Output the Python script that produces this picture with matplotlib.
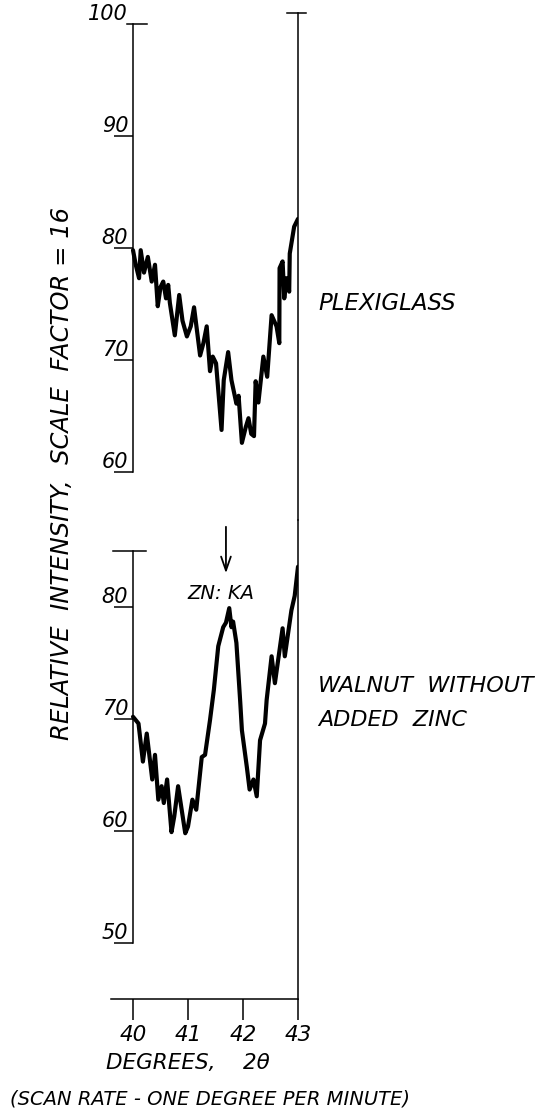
import matplotlib
matplotlib.use("Agg")
import matplotlib.pyplot as plt

# Scan angle (degrees 2-theta) and relative intensity for each sample
plexi_deg = [40.00, 40.05, 40.11, 40.14, 40.20, 40.27, 40.34, 40.40, 40.45, 40.50,
             40.55, 40.60, 40.64, 40.67, 40.76, 40.84, 40.90, 40.98, 41.05, 41.11,
             41.22, 41.28, 41.34, 41.40, 41.45, 41.51, 41.61, 41.65, 41.73, 41.79,
             41.88, 41.92, 41.98, 42.05, 42.10, 42.15, 42.20, 42.23, 42.28, 42.37,
             42.44, 42.52, 42.61, 42.66, 42.665, 42.72, 42.75, 42.79, 42.84, 42.85,
             42.93, 43.00]
plexi_int = [79.8, 78.5, 77.3, 79.8, 77.8, 79.2, 77.0, 78.5, 74.8, 76.5,
             77.0, 75.5, 76.7, 75.1, 72.2, 75.8, 73.5, 72.1, 73.0, 74.7,
             70.4, 71.5, 73.0, 69.0, 70.3, 69.7, 63.75, 68.2, 70.7, 68.2,
             66.1, 66.8, 62.6, 64.0, 64.8, 63.4, 63.2, 68.1, 66.2, 70.3,
             68.5, 74.0, 73.0, 71.5, 78.2, 78.8, 75.5, 77.3, 76.1, 79.5,
             81.9, 82.6]

walnut_deg = [40.00, 40.10, 40.18, 40.25, 40.35, 40.40, 40.46, 40.52, 40.56, 40.62,
              40.70, 40.75, 40.82, 40.95, 41.00, 41.08, 41.15, 41.25, 41.31, 41.40,
              41.47, 41.55, 41.64, 41.69, 41.75, 41.79, 41.82, 41.88, 41.95, 41.98,
              42.07, 42.12, 42.19, 42.25, 42.31, 42.40, 42.43, 42.52, 42.58, 42.72,
              42.76, 42.88, 42.94, 43.00]
walnut_int = [70.2, 69.6, 66.2, 68.7, 64.6, 66.8, 62.8, 64.0, 62.5, 64.6,
              59.9, 61.3, 64.0, 59.8, 60.4, 62.8, 61.9, 66.6, 66.8, 69.9,
              72.6, 76.5, 78.2, 78.6, 79.9, 78.2, 78.7, 76.8, 71.5, 69.0,
              65.7, 63.7, 64.6, 63.1, 68.1, 69.6, 71.7, 75.6, 73.2, 78.1,
              75.6, 79.7, 81.0, 83.6]

x_ticks = [40, 41, 42, 43]
upper_ticks = [60, 70, 80, 90]
lower_ticks = [50, 60, 70, 80]
zn_ka_deg = 41.69

FONT = dict(family="DejaVu Sans", style="italic")
W, H = 551, 1112
fig = plt.figure(figsize=(W / 100, H / 100), dpi=100)
fig.patch.set_facecolor("white")

xlim = (39.6, 43.0)
left = 111 / W
width = 187 / W
ax_top = fig.add_axes([left, 1 - 520 / H, width, 507 / H])
ax_bot = fig.add_axes([left, 1 - 999 / H, width, 479 / H])
ax_top.set_ylim(55.71, 100.98)
ax_bot.set_ylim(45.0, 87.77)

lw_axis = 1.1
for ax in (ax_top, ax_bot):
    ax.set_xlim(*xlim)
    ax.patch.set_alpha(0)
    ax.spines["top"].set_visible(False)
    ax.spines["left"].set_position(("data", 40))
    for s in ax.spines.values():
        s.set_linewidth(lw_axis)
        s.set_color("black")
    ax.tick_params(axis="y", direction="out", length=13.5, width=lw_axis,
                   labelleft=False, right=False)

ax_top.spines["bottom"].set_visible(False)
ax_top.spines["left"].set_bounds(60, 100)
ax_top.set_xticks([])
ax_top.set_yticks(upper_ticks)

ax_bot.spines["left"].set_bounds(50, 85)
ax_bot.spines["bottom"].set_bounds(xlim[0], 43)
ax_bot.set_yticks(lower_ticks)
ax_bot.set_xticks(x_ticks)
ax_bot.set_xticklabels([str(t) for t in x_ticks], fontsize=15.5, **FONT)
ax_bot.tick_params(axis="x", direction="out", length=15, width=lw_axis, pad=4)

# caps on the axis lines
ax_top.plot([39.89, 40.25], [100, 100], color="black", lw=lw_axis, clip_on=False)
ax_bot.plot([39.64, 40.24], [85, 85], color="black", lw=lw_axis, clip_on=False)
ax_top.plot([42.8, 43.15], [100.98, 100.98], color="black", lw=lw_axis, clip_on=False)

# y tick labels sitting on their tick marks
for ax, vals in ((ax_top, upper_ticks + [100]), (ax_bot, lower_ticks)):
    for v in vals:
        ax.annotate(str(v), xy=(40, v), xytext=(-3.5, 0.3), textcoords="offset points",
                    ha="right", va="bottom", fontsize=15, annotation_clip=False, **FONT)

# recorder traces
trace = dict(color="black", lw=3.0, solid_joinstyle="round", solid_capstyle="round")
ax_top.plot(plexi_deg, plexi_int, **trace)
ax_bot.plot(walnut_deg, walnut_int, **trace)

# Zn K-alpha marker
ax_bot.annotate("", xy=(zn_ka_deg, 82.77), xytext=(zn_ka_deg, 87.41),
                arrowprops=dict(arrowstyle="->,head_length=1.0,head_width=0.35",
                                color="black", lw=1.3))
ax_bot.text(zn_ka_deg - 0.09, 81.2, "ZN: KA", ha="center", va="center",
            fontsize=14, **FONT)

fig.text(318 / W, 1 - 303 / H, "PLEXIGLASS", ha="left", va="center", fontsize=16.5, **FONT)
fig.text(318 / W, 1 - 686 / H, "WALNUT  WITHOUT", ha="left", va="center", fontsize=16, **FONT)
fig.text(318 / W, 1 - 720 / H, "ADDED  ZINC", ha="left", va="center", fontsize=16, **FONT)

fig.text(62 / W, 1 - 473 / H, "RELATIVE  INTENSITY,  SCALE  FACTOR = 16", rotation=90,
         ha="center", va="center", fontsize=17.5, **FONT)
fig.text(188 / W, 1 - 1063 / H, "DEGREES,    2θ", ha="center", va="center", fontsize=15.5, **FONT)
fig.text(210 / W, 1 - 1099 / H, "(SCAN RATE - ONE DEGREE PER MINUTE)", ha="center",
         va="center", fontsize=14, **FONT)

fig.savefig("out.png", dpi=100, facecolor="white")
